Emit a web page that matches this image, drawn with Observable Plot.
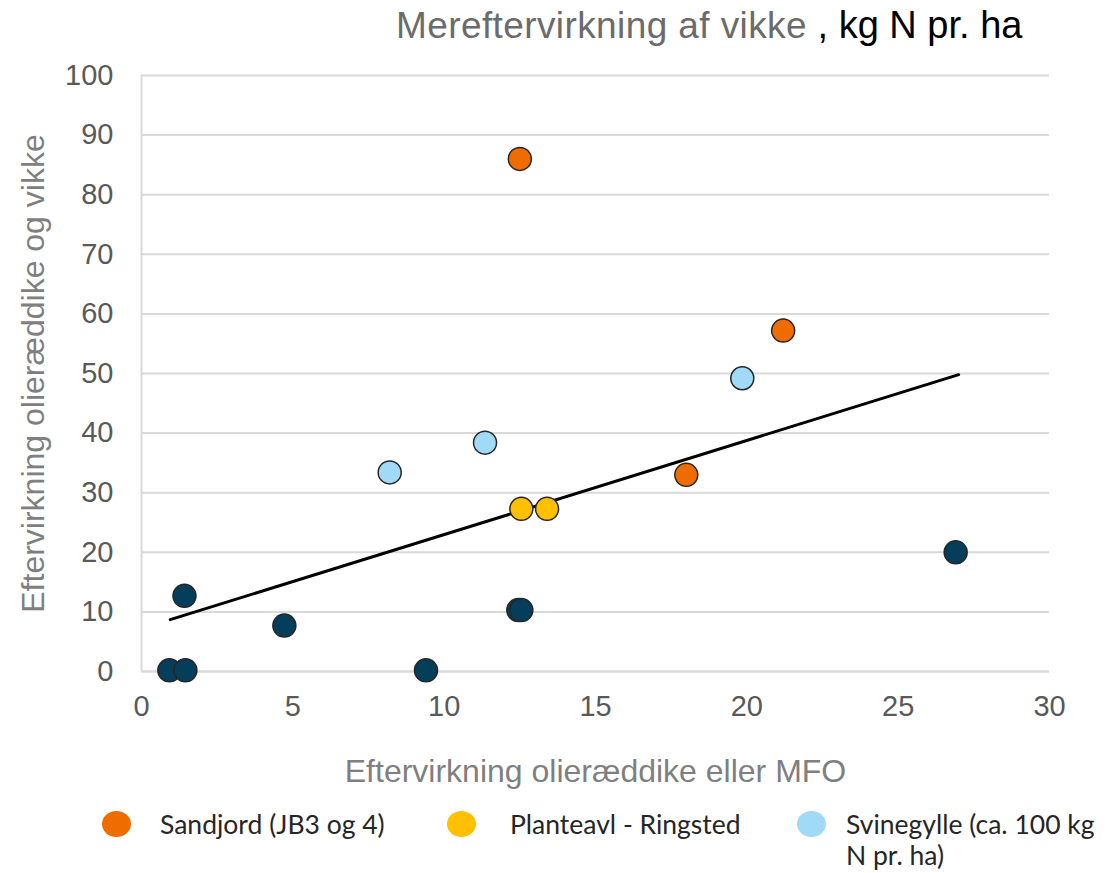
<!DOCTYPE html>
<html>
<head>
<meta charset="utf-8">
<script src="https://cdn.jsdelivr.net/npm/d3@7"></script>
<script src="https://cdn.jsdelivr.net/npm/@observablehq/plot@0.6"></script>
<style>
  html, body { margin: 0; padding: 0; background: #fff; }
  #wrap { position: relative; width: 1106px; height: 873px; overflow: hidden; font-family: "Liberation Sans", Arial, sans-serif; background: #fff; }
  #title { position: absolute; z-index: 5; top: 4px; left: 396px; white-space: nowrap; font-size: 37px; line-height: 42px; }
  #title .g { color: #6b6b6b; letter-spacing: 0.4px; }
  #title .b { color: #000; font-size: 38px; }
  #chart { position: absolute; top: 0; left: 0; z-index: 1; }
  #legend { position: absolute; top: 0; left: 0; z-index: 5; }
  .leg { position: absolute; font-family: Lato, "Liberation Sans", sans-serif; font-size: 26.5px; color: #262626; line-height: 31px; white-space: nowrap; }
  .dot { position: absolute; width: 29px; height: 26px; border-radius: 50%; }
</style>
</head>
<body>
<div id="wrap">
  <div id="title"><span class="g">Mereftervirkning af vikke</span><span class="b"> , kg N pr. ha</span></div>
  <div id="chart"></div>
  <div id="legend"></div>
</div>
<script>
// Series (x = eftervirkning olieræddike eller MFO, y = eftervirkning olieræddike og vikke)
const seriesNames = ["Sandjord (JB3 og 4)", "Planteavl - Ringsted", "Svinegylle (ca. 100 kg N pr. ha)", "Øvrige"];
const seriesColors = ["#EE6C00", "#FFC000", "#A0DAF7", "#053E5B"];

const sandjordX = [12.5, 21.2, 18.0];
const sandjordY = [86.0, 57.2, 33.0];
const planteavlX = [12.55, 13.4];
const planteavlY = [27.3, 27.3];
const svinegylleX = [8.2, 11.35, 19.85];
const svinegylleY = [33.4, 38.4, 49.2];
const oevrigeX = [0.92, 1.45, 1.42, 4.72, 9.4, 12.45, 12.55, 26.9];
const oevrigeY = [0.2, 0.2, 12.7, 7.7, 0.2, 10.3, 10.3, 20.0];

// Trend line endpoints
const trendX = [0.95, 27.0];
const trendY = [8.7, 49.8];

const xTicks = [0, 5, 10, 15, 20, 25, 30];
const yTicks = [0, 10, 20, 30, 40, 50, 60, 70, 80, 90, 100];

function pts(xs, ys, s) { return xs.map((x, i) => ({x, y: ys[i], s})); }
const points = [
  ...pts(oevrigeX, oevrigeY, 3),
  ...pts(sandjordX, sandjordY, 0),
  ...pts(planteavlX, planteavlY, 1),
  ...pts(svinegylleX, svinegylleY, 2)
];
const trend = trendX.map((x, i) => ({x, y: trendY[i]}));

const W = 1106, H = 790;
const chart = Plot.plot({
  width: W,
  height: H,
  marginLeft: 141,
  marginRight: 57,
  marginTop: 75,
  marginBottom: 119,
  style: { fontFamily: "'Liberation Sans', Arial, sans-serif", fontSize: "29px", color: "#595959", background: "transparent", overflow: "visible" },
  x: { domain: [0, 30], ticks: xTicks, tickSize: 0, tickPadding: 24, label: "Eftervirkning olieræddike eller MFO", labelAnchor: "center", labelOffset: 110, labelArrow: "none" },
  y: { domain: [0, 100], ticks: yTicks, tickSize: 0, tickPadding: 28, label: "Eftervirkning olieræddike og vikke", labelAnchor: "center", labelOffset: 120, labelArrow: "none" },
  marks: [
    Plot.gridY(yTicks, { stroke: "#d9d9d9", strokeOpacity: 1, strokeWidth: 2 }),
    Plot.ruleX([0], { stroke: "#d9d9d9", strokeWidth: 2 }),
    Plot.ruleY([0], { stroke: "#d9d9d9", strokeWidth: 2 }),
    Plot.line(trend, { x: "x", y: "y", stroke: "#000", strokeWidth: 3 }),
    Plot.dot(points, { x: "x", y: "y", r: 11.5, fill: d => seriesColors[d.s], stroke: "#262626", strokeWidth: 1.5 })
  ]
});
chart.querySelectorAll("g[aria-label='x-axis label'] text, g[aria-label='y-axis label'] text").forEach(t => { t.style.fontSize = "32px"; t.setAttribute("fill", "#7f7f7f"); });
document.getElementById("chart").appendChild(chart);

// Legend (three visible entries)
const legendItems = [
  { i: 0, dotX: 102, textX: 160, text: "Sandjord (JB3 og 4)" },
  { i: 1, dotX: 447, textX: 510, text: "Planteavl - Ringsted" },
  { i: 2, dotX: 797, textX: 846, text: "Svinegylle (ca. 100 kg<br>N pr. ha)" }
];
const legend = document.getElementById("legend");
legendItems.forEach(it => {
  const d = document.createElement("div");
  d.className = "dot";
  d.style.left = it.dotX + "px";
  d.style.top = "811px";
  d.style.background = seriesColors[it.i];
  legend.appendChild(d);
  const t = document.createElement("div");
  t.className = "leg";
  t.style.left = it.textX + "px";
  t.style.top = "809px";
  t.innerHTML = it.text;
  legend.appendChild(t);
});
</script>
</body>
</html>
